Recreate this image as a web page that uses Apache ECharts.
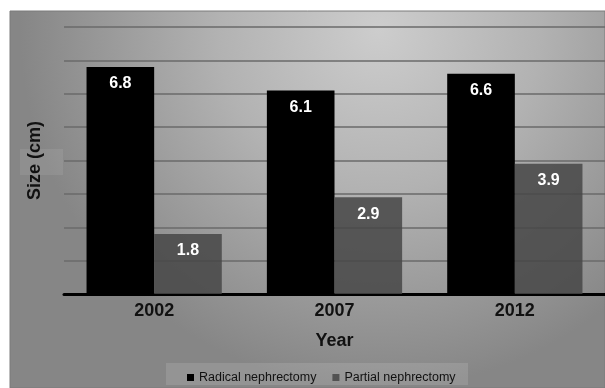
<!DOCTYPE html>
<html>
<head>
<meta charset="utf-8">
<script src="https://cdn.jsdelivr.net/npm/echarts@6/dist/echarts.min.js"></script>
<style>
  html, body { margin: 0; padding: 0; background: #ffffff; }
  #chart { width: 605px; height: 388px; }
</style>
</head>
<body>
<div id="chart"></div>
<script>
// Tumour size by year of surgery
const years = ['2002', '2007', '2012'];
const radical = [6.8, 6.1, 6.6];
const partial = [1.8, 2.9, 3.9];
const seriesNames = ['Radical nephrectomy', 'Partial nephrectomy'];

const chart = echarts.init(document.getElementById('chart'), null, { renderer: 'canvas' });

const labelStyle = {
  show: true,
  position: 'insideTop',
  distance: 9,
  color: '#ffffff',
  fontFamily: 'Liberation Sans, Arial, sans-serif',
  fontWeight: 'bold',
  fontSize: 16,
  formatter: p => p.value.toFixed(1)
};

chart.setOption({
  animation: false,
  backgroundColor: '#ffffff',
  graphic: [
    {
      type: 'rect',
      z: -10,
      shape: { x: 10, y: 11, width: 595, height: 377 },
      style: {
        fill: new echarts.graphic.RadialGradient(0.62, 0.05, 0.95, [
          { offset: 0, color: '#cdcdcd' },
          { offset: 0.45, color: '#b2b2b2' },
          { offset: 1, color: '#868686' }
        ]),
        stroke: '#7a7a7a',
        lineWidth: 1
      }
    },
    {
      type: 'rect',
      z: -9,
      shape: { x: 20, y: 149, width: 43, height: 26 },
      style: { fill: 'rgba(255,255,255,0.08)' }
    },
    {
      type: 'rect',
      z: -9,
      shape: { x: 166, y: 363, width: 302, height: 22 },
      style: { fill: 'rgba(255,255,255,0.12)' }
    }
  ],
  grid: { left: 64, right: 0, top: 27, bottom: 94 },
  legend: {
    data: seriesNames,
    left: 182,
    top: 366,
    itemWidth: 7,
    itemHeight: 7,
    itemGap: 16,
    icon: 'rect',
    textStyle: {
      fontFamily: 'Liberation Sans, Arial, sans-serif',
      fontSize: 12.5,
      color: '#111111',
      padding: [0, 0, 0, 0]
    }
  },
  xAxis: {
    type: 'category',
    data: years,
    name: 'Year',
    nameLocation: 'middle',
    nameGap: 38,
    nameTextStyle: {
      fontFamily: 'Liberation Sans, Arial, sans-serif',
      fontWeight: 'bold',
      fontSize: 18,
      color: '#111111'
    },
    axisLine: { lineStyle: { color: '#000000', width: 3 } },
    axisTick: { show: false },
    axisLabel: {
      margin: 8,
      fontFamily: 'Liberation Sans, Arial, sans-serif',
      fontWeight: 'bold',
      fontSize: 18,
      color: '#111111'
    }
  },
  yAxis: {
    type: 'value',
    min: 0,
    max: 8,
    interval: 1,
    name: 'Size (cm)',
    nameLocation: 'middle',
    nameGap: 20,
    nameRotate: 90,
    nameTextStyle: {
      fontFamily: 'Liberation Sans, Arial, sans-serif',
      fontWeight: 'bold',
      fontSize: 18,
      color: '#111111'
    },
    axisLine: { show: false },
    axisTick: { show: false },
    axisLabel: { show: false },
    splitLine: { lineStyle: { color: '#6a6a6a', width: 1.5 } }
  },
  series: [
    {
      name: seriesNames[0],
      type: 'bar',
      data: radical,
      barGap: '0%',
      barCategoryGap: '25%',
      itemStyle: { color: '#000000' },
      label: labelStyle
    },
    {
      name: seriesNames[1],
      type: 'bar',
      data: partial,
      itemStyle: { color: 'rgba(70,70,70,0.85)' },
      label: labelStyle
    }
  ]
});
</script>
</body>
</html>
